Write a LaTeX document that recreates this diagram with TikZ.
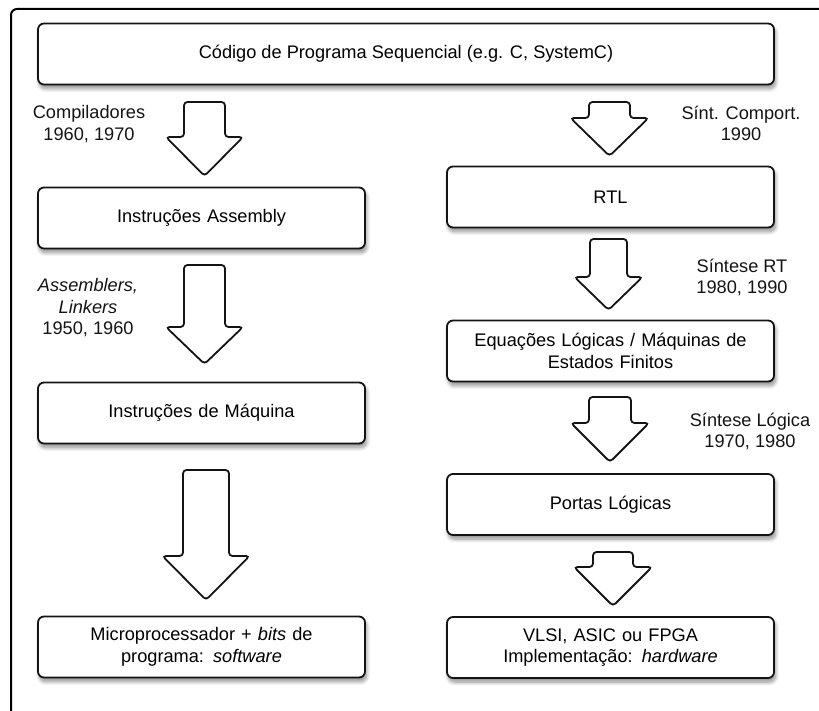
\documentclass[tikz,border=0pt]{standalone}
\usepackage{fontspec}
\setmainfont{Liberation Sans}
\usetikzlibrary{shadows.blur}

% block arrow pointing down: centre x, top y, shaft half-width, shoulder y, head half-width, tip y
\newcommand{\flowarrow}[6]{%
  \draw[flowarrowstyle] ({#1-#3},#2) -- ({#1+#3},#2) -- ({#1+#3},#4) -- ({#1+#5},#4)
    -- (#1,#6) -- ({#1-#5},#4) -- ({#1-#3},#4) -- cycle;}

\tikzset{
  stagebox/.style={draw=black!92, line width=1.8pt, rounded corners=6pt, fill=white,
    minimum height=61pt, align=center, inner sep=2pt,
    blur shadow={shadow xshift=1.5pt, shadow yshift=-4pt, shadow blur steps=8,
      shadow blur extra rounding=2pt, shadow opacity=45}},
  narrowbox/.style={stagebox, minimum width=327pt, text width=310pt},
  widebox/.style={stagebox, minimum width=736pt},
  flowarrowstyle/.style={draw=black!92, line width=1.8pt, fill=white, rounded corners=3.5pt},
  steplabel/.style={align=center, text=black!92},
}

\begin{document}
\fontsize{18.2}{21.5}\selectfont
\begin{tikzpicture}[x=1pt, y=-1pt]
  \useasboundingbox (0,0) rectangle (819,711);
  \clip (0,0) rectangle (819,711);

  % outer frame
  \draw[line width=2pt, rounded corners=6pt] (11,9) rectangle (840,740);

  % stage boxes
  \node[widebox] (code) at (406,54) {Código de Programa Sequencial (e.g. C, SystemC)};

  \node[narrowbox] (asm)  at (201.5,218) {Instruções Assembly};
  \node[narrowbox] (mach) at (201.5,413) {Instruções de Máquina};
  \node[narrowbox] (cpu)  at (201.5,647) {Microprocessador + \textit{bits} de\\programa: \textit{software}};

  \node[narrowbox] (rtl)  at (610.5,197) {RTL};
  \node[narrowbox] (eqs)  at (610.5,351) {Equações Lógicas / Máquinas de\\Estados Finitos};
  \node[narrowbox] (gates) at (610.5,504.5) {Portas Lógicas};
  \node[narrowbox] (impl) at (610.5,647.5) {VLSI, ASIC ou FPGA\\Implementação: \textit{hardware}};

  % software flow arrows
  \flowarrow{204.5}{102}{20.5}{137}{38.5}{176}
  \flowarrow{204.5}{265}{20.5}{327}{38.5}{364}
  \flowarrow{206}{470}{23}{556}{43.5}{600}

  % hardware flow arrows
  \flowarrow{609.5}{102}{20.5}{118}{39}{156}
  \flowarrow{608.5}{239}{18.5}{277}{34}{310}
  \flowarrow{610}{397}{21}{423}{39}{462}
  \flowarrow{613}{552}{20}{567}{39}{606}

  % arrow labels
  \node[steplabel] (lcomp) at (89,124) {Compiladores\\1960, 1970};
  \node[steplabel] (lasm)  at (88,308) {\textit{Assemblers,}\\\textit{Linkers}\\1950, 1960};
  \node[steplabel] (lbeh)  at (741,123.5) {Sínt. Comport.\\1990};
  \node[steplabel] (lrt)   at (742,277.5) {Síntese RT\\1980, 1990};
  \node[steplabel] (llog)  at (750,431.5) {Síntese Lógica\\1970, 1980};
\end{tikzpicture}
\end{document}
